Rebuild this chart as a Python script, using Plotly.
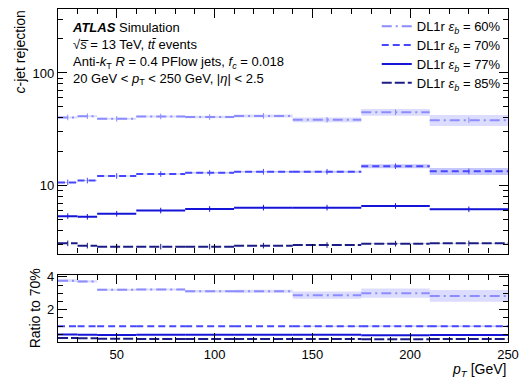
import math
import plotly.graph_objects as go

# ---------------- data ----------------
edges = [20, 30, 40, 60, 85, 110, 140, 175, 210, 250]
rej60 = [40.3, 41.3, 39.2, 41.1, 40.6, 41.6, 38.4, 44.8, 38.1]
rej70 = [10.7, 11.1, 12.2, 12.7, 13.0, 13.3, 13.3, 14.9, 13.4]
rej77 = [5.37, 5.30, 5.64, 6.02, 6.22, 6.39, 6.39, 6.61, 6.18]
rej85 = [3.08, 2.94, 2.88, 2.88, 2.88, 2.94, 2.98, 3.06, 3.08]
relerr60 = [0.02, 0.02, 0.02, 0.02, 0.025, 0.03, 0.05, 0.07, 0.11]
relerr70 = [0.01, 0.01, 0.01, 0.01, 0.015, 0.015, 0.02, 0.04, 0.07]
relerr77 = [0.005, 0.005, 0.005, 0.005, 0.006, 0.006, 0.008, 0.01, 0.015]
relerr85 = [0.004, 0.004, 0.004, 0.004, 0.004, 0.005, 0.006, 0.008, 0.01]
ratioerr60 = [0.08, 0.07, 0.06, 0.06, 0.07, 0.09, 0.22, 0.28, 0.36]
ratioerr70 = [0.02, 0.02, 0.02, 0.02, 0.02, 0.02, 0.03, 0.04, 0.05]
ratioerr77 = [0.01, 0.01, 0.01, 0.01, 0.01, 0.01, 0.01, 0.02, 0.02]
ratioerr85 = [0.005, 0.005, 0.005, 0.005, 0.005, 0.005, 0.005, 0.01, 0.01]

wp_labels = ["60%", "70%", "77%", "85%"]
colors = ["#8c8cff", "#4747ff", "#1515d8", "#1c1c86"]
bandcolors = ["rgba(140,140,255,0.30)", "rgba(71,71,255,0.30)",
              "rgba(21,21,216,0.25)", "rgba(28,28,134,0.25)"]
dashes = ["10px,4px,2px,4px", "7px,4px", "solid", "10px,3px"]
legend_ids = ["legend", "legend2", "legend3", "legend4"]

series = [rej60, rej70, rej77, rej85]
relerrs = [relerr60, relerr70, relerr77, relerr85]
ratioerrs = [ratioerr60, ratioerr70, ratioerr77, ratioerr85]


def seg_xy(vals):
    xs, ys = [], []
    for i, v in enumerate(vals):
        xs += [edges[i], edges[i + 1], None]
        ys += [v, v, None]
    return xs, ys


def band_xy(vals, errs):
    xs, ys = [], []
    for i, (v, e) in enumerate(zip(vals, errs)):
        lo, hi = v - e, v + e
        xs += [edges[i], edges[i + 1], edges[i + 1], edges[i], edges[i], None]
        ys += [lo, lo, hi, hi, lo, None]
    return xs, ys


centers = [(edges[i] + edges[i + 1]) / 2 for i in range(len(edges) - 1)]

fig = go.Figure()

for k, vals in enumerate(series):
    ratio = [v / r for v, r in zip(vals, rej70)]
    bx, by = band_xy(vals, [v * e for v, e in zip(vals, relerrs[k])])
    fig.add_trace(go.Scatter(x=bx, y=by, xaxis="x2", yaxis="y2", mode="lines",
                             fill="toself", fillcolor=bandcolors[k],
                             line=dict(width=0), hoverinfo="skip", showlegend=False))
    rx, ry = band_xy(ratio, ratioerrs[k])
    fig.add_trace(go.Scatter(x=rx, y=ry, xaxis="x", yaxis="y", mode="lines",
                             fill="toself", fillcolor=bandcolors[k],
                             line=dict(width=0), hoverinfo="skip", showlegend=False))

for k, vals in enumerate(series):
    ratio = [v / r for v, r in zip(vals, rej70)]
    sx, sy = seg_xy(vals)
    fig.add_trace(go.Scatter(x=sx, y=sy, xaxis="x2", yaxis="y2", mode="lines",
                             line=dict(color=colors[k], width=2, dash=dashes[k]),
                             name="DL1r <i>ε<sub>b</sub></i> = " + wp_labels[k],
                             showlegend=True, legend=legend_ids[k]))
    fig.add_trace(go.Scatter(x=centers, y=vals, xaxis="x2", yaxis="y2", mode="markers",
                             marker=dict(symbol="line-ns", size=4,
                                         line=dict(color=colors[k], width=1)),
                             showlegend=False, hoverinfo="skip"))
    rsx, rsy = seg_xy(ratio)
    fig.add_trace(go.Scatter(x=rsx, y=rsy, xaxis="x", yaxis="y", mode="lines",
                             line=dict(color=colors[k], width=2, dash=dashes[k]),
                             showlegend=False))

axis_common = dict(showline=True, linecolor="black", linewidth=1.2, mirror="allticks",
                   ticks="inside", tickcolor="black", tickwidth=1, showgrid=False,
                   zeroline=False)

legend_rows = [20.6, 39.8, 59.0, 78.2]
legends = {}
for lid, py in zip(legend_ids, legend_rows):
    legends[lid] = dict(x=0.995, xanchor="right", y=(342 - py) / 339, yanchor="middle",
                        bgcolor="rgba(0,0,0,0)", font=dict(size=13), itemwidth=30)

fig.update_layout(
    width=531, height=387,
    margin=dict(l=58, r=23, t=3, b=45),
    paper_bgcolor="white", plot_bgcolor="white",
    showlegend=True,
    font=dict(family="Liberation Sans, Arial, sans-serif", size=13, color="black"),
    xaxis=dict(domain=[0, 1], anchor="y", range=[20, 250],
               tickvals=[50, 100, 150, 200, 250], ticklen=9,
               minor=dict(dtick=10, tick0=0, ticks="inside", ticklen=5, tickcolor="black"),
               **axis_common),
    xaxis2=dict(domain=[0, 1], anchor="y2", range=[20, 250], matches="x",
                showticklabels=False,
                tickvals=[50, 100, 150, 200, 250], ticklen=9,
                minor=dict(dtick=10, tick0=0, ticks="inside", ticklen=5, tickcolor="black"),
                **axis_common),
    yaxis=dict(domain=[0, 0.2006], anchor="x", range=[0.04, 4.1],
               tickvals=[2, 4], ticklen=9,
               minor=dict(dtick=0.5, tick0=0, ticks="inside", ticklen=5, tickcolor="black"),
               **axis_common),
    yaxis2=dict(domain=[0.2655, 1], anchor="x2", type="log",
                range=[math.log10(2.5), 2.567],
                tickvals=[10, 100], ticktext=["10", "100"], ticklen=9,
                minor=dict(tickvals=[3, 4, 5, 6, 7, 8, 9, 20, 30, 40, 50, 60, 70, 80, 90, 200, 300],
                           ticks="inside", ticklen=5, tickcolor="black"),
                **axis_common),
    **legends,
)

ann = []
header = ("<b><i>ATLAS</i></b> Simulation<br>"
          "√<i>s̅</i> = 13 TeV, <i>t</i><i>t̄</i> events<br>"
          "Anti-<i>k</i><sub>T</sub> <i>R</i> = 0.4 PFlow jets, <i>f<sub>c</sub></i> = 0.018<br>"
          "20 GeV &lt; <i>p</i><sub>T</sub> &lt; 250 GeV, |<i>η</i>| &lt; 2.5")
ann.append(dict(text=header, xref="paper", yref="paper", x=(70 - 58) / 450,
                y=(342 - 12) / 339, xanchor="left", yanchor="top", align="left",
                showarrow=False, font=dict(size=13)))
ann.append(dict(text="<i>p<sub>T</sub></i> [GeV]", xref="paper", yref="paper",
                x=1, y=(342 - 371) / 339, xanchor="right", yanchor="middle",
                showarrow=False, font=dict(size=14)))
ann.append(dict(text="<i>c</i>-jet rejection", xref="paper", yref="paper",
                x=(19 - 58) / 450, y=(342 - 3) / 339, xanchor="center", yanchor="top",
                textangle=-90, showarrow=False, font=dict(size=14)))
ann.append(dict(text="Ratio to 70%", xref="paper", yref="paper",
                x=(35 - 58) / 450, y=(342 - 265) / 339, xanchor="center", yanchor="top",
                textangle=-90, showarrow=False, font=dict(size=14)))
fig.update_layout(annotations=ann)

fig.write_html("out.html")
